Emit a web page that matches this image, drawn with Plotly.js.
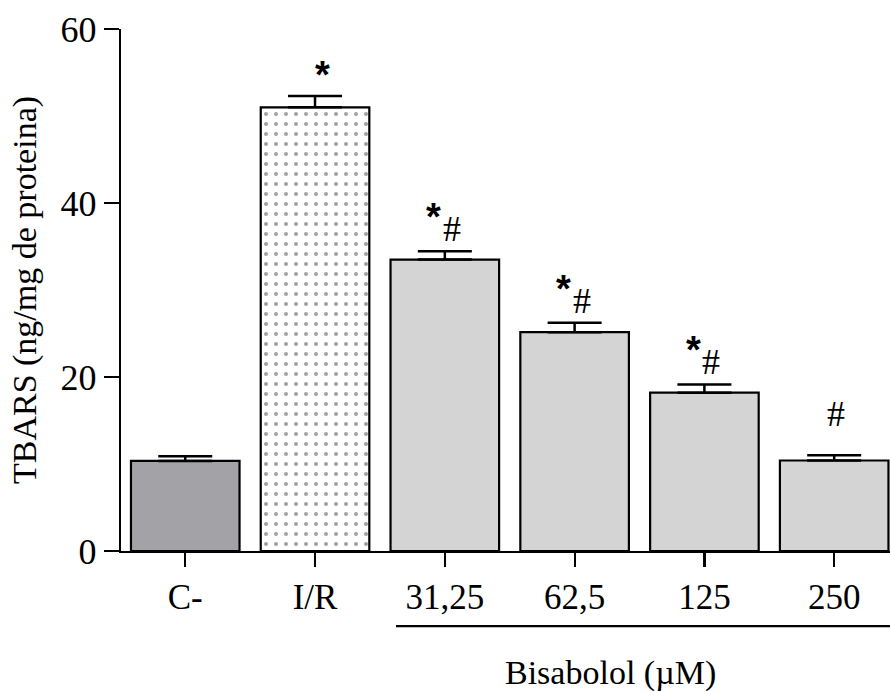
<!DOCTYPE html>
<html>
<head>
<meta charset="utf-8">
<script src="https://cdn.plot.ly/plotly-3.0.1.min.js"></script>
<style>
  html, body { margin: 0; padding: 0; background: #fff; }
  #chart { width: 890px; height: 691px; }
</style>
</head>
<body>
<div id="chart"></div>
<script>
// TBARS levels per group (mean and SEM)
const categories = ['C-', 'I/R', '31,25', '62,5', '125', '250'];
const tbars = [10.35, 51.0, 33.5, 25.15, 18.2, 10.4];
const sem = [0.55, 1.3, 0.95, 1.1, 0.95, 0.6];
// significance marks: * vs control, # vs I/R
const vsControl = ['', '*', '*', '*', '*', ''];
const vsIR = ['', '', '#', '#', '#', '#'];

const fillColors = ['#a3a2a7', '#ffffff', '#d4d4d4', '#d4d4d4', '#d4d4d4', '#d4d4d4'];
const patternShapes = ['', '.', '', '', '', ''];

const serif = 'Liberation Serif, Times New Roman, serif';

const trace = {
  type: 'bar',
  x: categories,
  y: tbars,
  marker: {
    color: fillColors,
    line: { color: '#000', width: 2.2 },
    pattern: {
      shape: patternShapes,
      fillmode: 'overlay',
      fgcolor: '#000',
      size: 10,
      solidity: 0.13
    }
  },
  error_y: {
    type: 'data',
    symmetric: false,
    array: sem,
    arrayminus: sem.map(() => 0),
    color: '#000',
    thickness: 2.5,
    width: 27
  },
  hoverinfo: 'none',
  showlegend: false
};

// category positions are given by index so numeric-looking labels stay on the axis
const annotations = [];
categories.forEach((c, i) => {
  const top = tbars[i] + sem[i];
  const both = vsControl[i] && vsIR[i];
  if (vsControl[i]) {
    annotations.push({
      x: i, y: top, xref: 'x', yref: 'y',
      text: vsControl[i], showarrow: false,
      xanchor: 'center', yanchor: 'bottom',
      xshift: both ? -11 : 7, yshift: both ? 11 : -2,
      font: { family: 'Liberation Sans, Arial, sans-serif', size: 38, color: '#000', weight: 'bold' }
    });
  }
  if (vsIR[i]) {
    annotations.push({
      x: i, y: top, xref: 'x', yref: 'y',
      text: vsIR[i], showarrow: false,
      xanchor: 'center', yanchor: 'bottom',
      xshift: both ? 7 : 2, yshift: both ? 0 : 19,
      font: { family: serif, size: 36, color: '#000' }
    });
  }
});

annotations.push({
  x: 0.636, y: -0.234, xref: 'paper', yref: 'paper',
  text: 'Bisabolol (µM)', showarrow: false,
  xanchor: 'center', yanchor: 'middle',
  font: { family: serif, size: 34, color: '#000' }
});

const layout = {
  width: 890,
  height: 691,
  margin: { l: 121, r: 0, t: 29, b: 140, pad: 0 },
  paper_bgcolor: '#fff',
  plot_bgcolor: '#fff',
  bargap: 0.1635,
  font: { family: serif, size: 34, color: '#000' },
  xaxis: {
    type: 'category',
    range: [-0.495, 5.43],
    showline: true, linecolor: '#000', linewidth: 2.2,
    ticks: 'outside', ticklen: 14, tickwidth: 2.2, tickcolor: '#000',
    showgrid: false, zeroline: false,
    tickfont: { family: serif, size: 35, color: '#000' }
  },
  yaxis: {
    range: [0, 60],
    tickvals: [0, 20, 40, 60],
    showline: true, linecolor: '#000', linewidth: 2.2,
    ticks: 'outside', ticklen: 15, tickwidth: 2.2, tickcolor: '#000',
    showgrid: false, zeroline: false,
    tickfont: { family: serif, size: 36, color: '#000' },
    title: {
      text: 'TBARS (ng/mg de proteina)',
      font: { family: serif, size: 34, color: '#000' },
      standoff: 14
    }
  },
  shapes: [{
    type: 'line', xref: 'paper', yref: 'paper',
    x0: 0.3576, x1: 1, y0: -0.1438, y1: -0.1438,
    line: { color: '#000', width: 2.2 }
  }],
  annotations: annotations
};

Plotly.newPlot('chart', [trace], layout, { displayModeBar: false, staticPlot: true });
</script>
</body>
</html>
